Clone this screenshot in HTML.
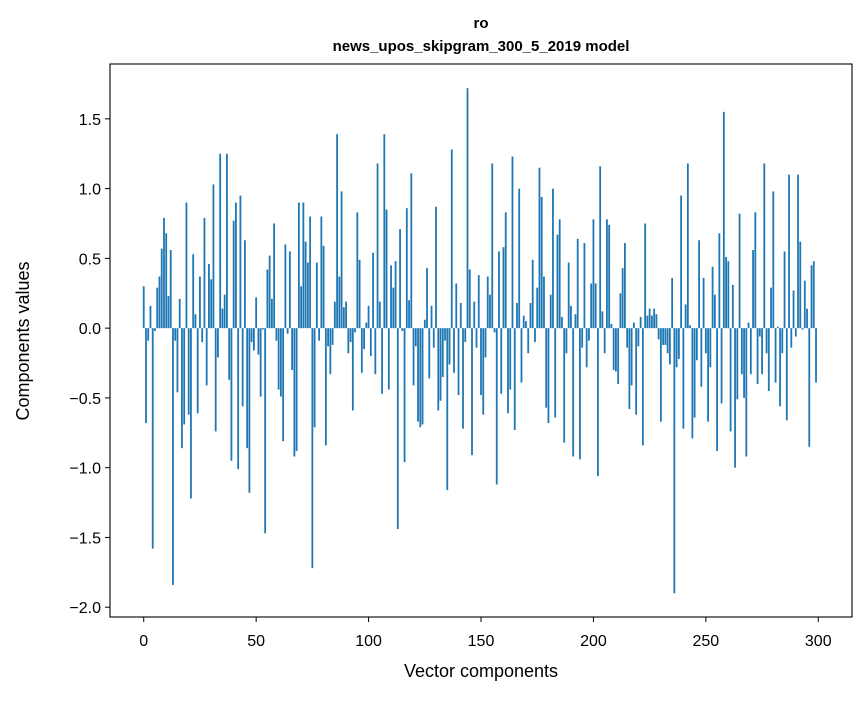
<!DOCTYPE html>
<html><head><meta charset="utf-8">
<style>
body{margin:0;background:#fff;}
svg text{font-family:"Liberation Sans",sans-serif;fill:#000;}
</style></head>
<body>
<svg id="chart" width="867" height="696" xmlns="http://www.w3.org/2000/svg">
<rect width="867" height="696" fill="#fff"/>
<text x="481" y="28" text-anchor="middle" font-size="15" font-weight="bold">ro</text>
<text x="481" y="51" text-anchor="middle" font-size="15" font-weight="bold">news_upos_skipgram_300_5_2019 model</text>
<g id="bars"></g>
<g id="axes"></g>
<text x="481" y="677" text-anchor="middle" font-size="18">Vector components</text>
<text transform="translate(29,341) rotate(-90)" text-anchor="middle" font-size="18">Components values</text>
</svg>
<script>
const values = [
0.30,-0.68,-0.09,0.16,-1.58,-0.02,0.29,0.37,0.57,0.79,
0.68,0.23,0.56,-1.84,-0.09,-0.46,0.21,-0.86,-0.69,0.90,
-0.62,-1.22,0.53,0.10,-0.61,0.37,-0.10,0.79,-0.41,0.46,
0.35,1.03,-0.74,-0.21,1.25,0.14,0.24,1.25,-0.37,-0.95,
0.77,0.90,-1.01,0.95,-0.56,0.63,-0.86,-1.18,-0.10,-0.16,
0.22,-0.19,-0.49,-0.01,-1.47,0.42,0.52,0.21,0.75,-0.09,
-0.44,-0.49,-0.81,0.60,-0.04,0.55,-0.30,-0.92,-0.88,0.90,
0.30,0.90,0.62,0.47,0.80,-1.72,-0.71,0.47,-0.09,0.80,
0.59,-0.84,-0.13,-0.33,-0.12,0.19,1.39,0.37,0.98,0.15,
0.19,-0.18,-0.10,-0.59,-0.03,0.83,0.49,-0.32,-0.15,
0.04,0.16,-0.20,0.54,-0.33,1.18,0.19,-0.47,1.39,0.85,
-0.44,0.45,0.29,0.48,-1.44,0.71,-0.02,-0.96,0.86,0.20,
1.11,-0.41,-0.13,-0.67,-0.71,-0.69,0.06,0.43,-0.36,0.16,
-0.14,0.87,-0.59,-0.52,-0.35,-0.09,-1.16,-0.26,1.28,-0.32,
0.32,-0.48,0.18,-0.72,-0.10,1.72,0.42,-0.91,0.19,-0.14,
0.38,-0.48,-0.62,-0.21,0.37,0.24,1.18,-0.03,-1.12,0.55,
-0.47,0.58,0.83,-0.61,-0.44,1.23,-0.73,0.18,1.00,-0.39,
0.09,0.05,-0.18,0.18,0.49,-0.10,0.29,1.15,0.94,0.37,
-0.57,-0.68,0.24,1.00,-0.64,0.67,0.78,0.08,-0.82,-0.18,
0.47,0.16,-0.92,0.10,0.64,-0.94,-0.14,0.61,-0.28,-0.09,
0.32,0.78,0.32,-1.06,1.16,0.12,-0.18,0.78,0.74,0.03,
-0.30,-0.31,-0.40,0.25,0.43,0.61,-0.14,-0.58,-0.41,0.04,
-0.62,-0.13,0.08,-0.84,0.75,0.09,0.14,0.09,0.14,0.10,
-0.08,-0.67,-0.12,-0.12,-0.18,-0.26,0.36,-1.90,-0.28,-0.22,
0.95,-0.72,0.17,1.18,0.02,-0.79,-0.64,-0.23,0.63,
-0.42,0.36,-0.18,-0.67,-0.28,0.44,0.24,-0.88,0.68,-0.54,
1.55,0.51,0.48,-0.74,0.31,-1.00,-0.51,0.82,-0.33,-0.50,
-0.92,0.04,-0.33,0.56,0.83,-0.40,-0.06,-0.33,1.18,-0.18,
-0.45,0.29,0.98,-0.39,0.01,-0.56,-0.18,0.55,-0.66,1.10,
-0.14,0.27,-0.06,1.10,0.62,-0.01,0.34,0.14,-0.85,0.45,
0.48,-0.39
];
const xTicks = [0,50,100,150,200,250,300];
const yTicks = [-2.0,-1.5,-1.0,-0.5,0.0,0.5,1.0,1.5];
const yTickLabels = ["\u22122.0","\u22121.5","\u22121.0","\u22120.5","0.0","0.5","1.0","1.5"];

const NS="http://www.w3.org/2000/svg";
const L=110,R=852,T=64,B=617;
const xMin=-15,xMax=315,yMin=-2.07,yMax=1.893;
const xs=v=>L+(v-xMin)/(xMax-xMin)*(R-L);
const ys=v=>B-(v-yMin)/(yMax-yMin)*(B-T);
function mk(tag,attrs,parent){const e=document.createElementNS(NS,tag);for(const k in attrs)e.setAttribute(k,attrs[k]);parent.appendChild(e);return e;}
const bars=document.getElementById('bars');
const axes=document.getElementById('axes');
const bw=0.8;
values.forEach((v,i)=>{
  const x0=xs(i-bw/2),x1=xs(i+bw/2);
  const y0=ys(Math.max(v,0)),y1=ys(Math.min(v,0));
  const r=mk('rect',{x:x0,y:y0,width:x1-x0,height:Math.max(y1-y0,0.3),fill:'#1f77b4'},bars);
  
  
});
const frame=mk('rect',{x:L,y:T,width:R-L,height:B-T,fill:'none',stroke:'#000','stroke-width':1.1},axes);


xTicks.forEach(t=>{
  const x=xs(t);
  const tk=mk('line',{x1:x,x2:x,y1:B,y2:B+5,stroke:'#000','stroke-width':1},axes);
  
  
  const tx=mk('text',{x:x,y:B+29,'text-anchor':'middle','font-size':16},axes);
  tx.textContent=t;
  
  
});
yTicks.forEach((t,i)=>{
  const y=ys(t);
  const tk=mk('line',{x1:L-5,x2:L,y1:y,y2:y,stroke:'#000','stroke-width':1},axes);
  
  
  const tx=mk('text',{x:L-9,y:y+6,'text-anchor':'end','font-size':16},axes);
  tx.textContent=yTickLabels[i];
  
  
});
</script>
</body></html>
